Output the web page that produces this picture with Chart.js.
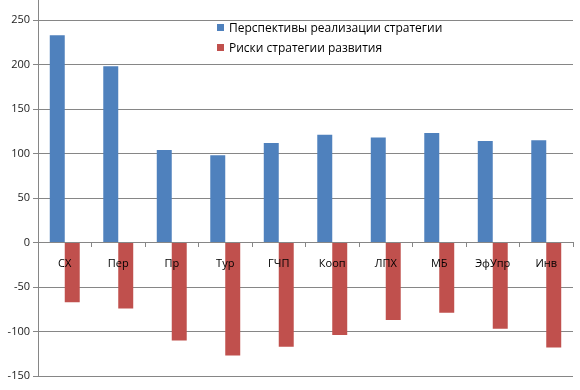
<!DOCTYPE html>
<html>
<head>
<meta charset="utf-8">
<script src="https://cdn.jsdelivr.net/npm/chart.js@4"></script>
<style>
  body { margin: 0; background: #fff; overflow: hidden; }
  #wrap { position: relative; width: 580px; height: 390px; overflow: hidden; }
  #chart { position: absolute; left: 0; top: -34px; }
  .legend { position: absolute; left: 217px; top: 19px; font: 12px "Open Sans", sans-serif; color: #000; }
  .legend div { height: 20px; line-height: 18px; }
  .legend span { display: inline-block; width: 7px; height: 7px; margin-right: 5px; vertical-align: 1px; }
</style>
</head>
<body>
<div id="wrap">
  <canvas id="chart" width="580" height="424"></canvas>
  <div class="legend">
    <div><span style="background:#4F81BD"></span>Перспективы реализации стратегии</div>
    <div><span style="background:#C0504D"></span>Риски стратегии развития</div>
  </div>
</div>
<script>
// Данные диаграммы
const categories = ["СХ", "Пер", "Пр", "Тур", "ГЧП", "Кооп", "ЛПХ", "МБ", "ЭфУпр", "Инв"];
const perspectives = [233, 198, 104, 98, 112, 121, 118, 123, 114, 115];
const risks = [-67, -74, -110, -127, -117, -104, -87, -79, -97, -118];
const yTicks = [-150, -100, -50, 0, 50, 100, 150, 200, 250, 300];

const ctx = document.getElementById("chart");

new Chart(ctx.getContext("2d"), {
  type: "bar",
  data: {
    labels: categories,
    datasets: [
      {
        label: "Перспективы реализации стратегии",
        data: perspectives,
        backgroundColor: "#4F81BD",
        barPercentage: 1,
        categoryPercentage: 0.56
      },
      {
        label: "Риски стратегии развития",
        data: risks,
        backgroundColor: "#C0504D",
        barPercentage: 1,
        categoryPercentage: 0.56
      }
    ]
  },
  options: {
    responsive: false,
    animation: false,
    layout: { padding: { left: 0, right: 7, top: 0, bottom: 14 } },
    plugins: {
      legend: { display: false },
      tooltip: { enabled: false }
    },
    scales: {
      x: {
        position: { y: 0 },
        grid: { display: true, drawOnChartArea: false, offset: true, tickLength: 4, color: "#868686", z: 1 },
        border: { display: true, color: "#868686", z: 1 },
        ticks: { z: 1, color: "#000", padding: 11, font: { family: "Open Sans", size: 11 } }
      },
      y: {
        min: -150,
        max: 300,
        afterBuildTicks: axis => { axis.ticks = yTicks.map(v => ({ value: v })); },
        afterFit: axis => { axis.width = 38; },
        grid: { color: "#868686", tickLength: 5 },
        border: { display: true, color: "#868686" },
        ticks: { color: "#222", padding: 3, font: { family: "Open Sans", size: 11 } }
      }
    }
  }
});
</script>
</body>
</html>
